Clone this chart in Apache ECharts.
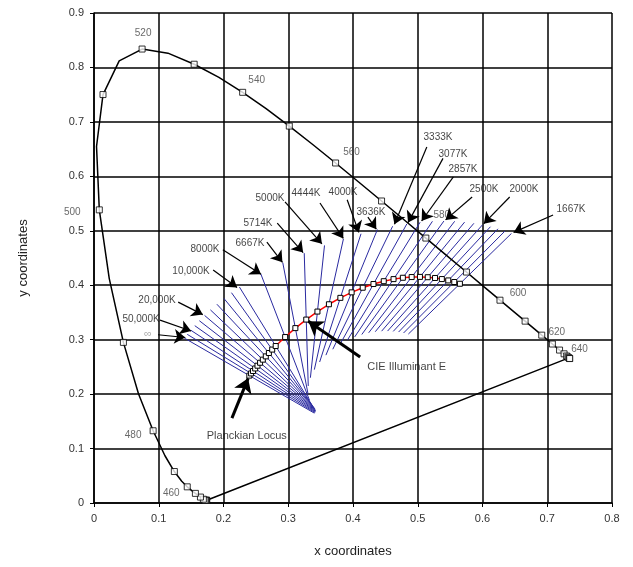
<!DOCTYPE html>
<html><head><meta charset="utf-8">
<script src="https://cdn.jsdelivr.net/npm/echarts@6/dist/echarts.min.js"></script>
<style>html,body{margin:0;padding:0;background:#fff}#c{width:633px;height:567px}</style>
</head><body><div id="c"></div>
<script>
// Spectral locus (CIE 1931 2°)
const wavelengths = [380,385,390,395,400,405,410,415,420,425,430,435,440,445,450,455,460,465,470,475,480,485,490,495,500,505,510,515,520,525,530,535,540,545,550,555,560,565,570,575,580,585,590,595,600,605,610,615,620,625,630,635,640,645,650,660,670,680,690,700];
const locusX = [0.1741,0.1740,0.1738,0.1736,0.1733,0.1730,0.1726,0.1721,0.1714,0.1703,0.1689,0.1669,0.1644,0.1611,0.1566,0.1510,0.1440,0.1355,0.1241,0.1096,0.0913,0.0687,0.0454,0.0235,0.0082,0.0039,0.0139,0.0389,0.0743,0.1142,0.1547,0.1929,0.2296,0.2658,0.3016,0.3373,0.3731,0.4087,0.4441,0.4788,0.5125,0.5448,0.5752,0.6029,0.6270,0.6482,0.6658,0.6801,0.6915,0.7006,0.7079,0.7140,0.7190,0.7230,0.7260,0.7300,0.7320,0.7334,0.7344,0.7347];
const locusY = [0.0050,0.0050,0.0049,0.0049,0.0048,0.0048,0.0048,0.0048,0.0051,0.0058,0.0069,0.0086,0.0109,0.0138,0.0177,0.0227,0.0297,0.0399,0.0578,0.0868,0.1327,0.2007,0.2950,0.4127,0.5384,0.6548,0.7502,0.8120,0.8338,0.8262,0.8059,0.7816,0.7543,0.7243,0.6923,0.6589,0.6245,0.5896,0.5547,0.5202,0.4866,0.4544,0.4242,0.3965,0.3725,0.3514,0.3340,0.3197,0.3083,0.2993,0.2920,0.2859,0.2809,0.2770,0.2740,0.2700,0.2680,0.2666,0.2656,0.2653];
const labeledWavelengths = [460,480,500,520,540,560,580,600,620,640];
const wlLabelOffsetX = [-16,-20,-27,1,14,16,16,18,15,20];
const wlLabelOffsetY = [6,4,2,-16,-12,-11,-23,-7,-3,-1];

// Planckian locus points (Robertson mireds)
const mireds = [0,10,20,30,40,50,60,70,80,90,100,125,150,175,200,225,250,275,300,325,350,375,400,425,450,475,500,525,550,575,600];
const planckX = [0.2399,0.2426,0.2456,0.2489,0.2525,0.2565,0.2607,0.2653,0.2701,0.2752,0.2806,0.2952,0.3110,0.3278,0.3451,0.3628,0.3805,0.3979,0.4150,0.4316,0.4475,0.4626,0.4770,0.4906,0.5034,0.5154,0.5267,0.5372,0.5471,0.5564,0.5651];
const planckY = [0.2340,0.2380,0.2424,0.2471,0.2522,0.2576,0.2633,0.2693,0.2755,0.2818,0.2883,0.3048,0.3212,0.3369,0.3516,0.3650,0.3768,0.3869,0.3954,0.4022,0.4074,0.4112,0.4137,0.4150,0.4153,0.4147,0.4133,0.4113,0.4088,0.4059,0.4027];

// Isotemperature line ends
const isoTopX = [0.1393,0.1440,0.1494,0.1556,0.1627,0.1708,0.1798,0.1898,0.2006,0.2123,0.2246,0.2576,0.2915,0.3247,0.3560,0.3852,0.4124,0.4377,0.4612,0.4832,0.5036,0.5227,0.5404,0.5570,0.5723,0.5867,0.6000,0.6123,0.6239,0.6347,0.6447];
const isoTopY = [0.3031,0.3098,0.3174,0.3257,0.3348,0.3445,0.3547,0.3651,0.3758,0.3863,0.3967,0.4208,0.4416,0.4589,0.4731,0.4849,0.4945,0.5023,0.5083,0.5127,0.5157,0.5174,0.5179,0.5174,0.5159,0.5137,0.5109,0.5074,0.5036,0.4995,0.4951];
const isoBotX = [0.3404,0.3412,0.3418,0.3422,0.3423,0.3421,0.3416,0.3408,0.3396,0.3382,0.3366,0.3328,0.3305,0.3309,0.3342,0.3403,0.3485,0.3582,0.3688,0.3800,0.3913,0.4026,0.4136,0.4242,0.4344,0.4442,0.4534,0.4621,0.4704,0.4781,0.4855];
const isoBotY = [0.1650,0.1662,0.1674,0.1685,0.1696,0.1708,0.1720,0.1735,0.1752,0.1773,0.1799,0.1887,0.2007,0.2149,0.2301,0.2450,0.2590,0.2716,0.2824,0.2916,0.2991,0.3050,0.3095,0.3126,0.3146,0.3156,0.3158,0.3152,0.3140,0.3123,0.3103];

// Temperature annotations
const tempLabels = ['\u221e','50,000K','20,000K','10,000K','8000K','6667K','5714K','5000K','4444K','4000K','3636K','3333K','3077K','2857K','2500K','2000K','1667K'];
const tempLabelX = [0.0834,0.0726,0.0973,0.1498,0.1714,0.2409,0.2533,0.2718,0.3274,0.3846,0.4278,0.5313,0.5544,0.5699,0.6023,0.6641,0.7367];
const tempLabelY = [0.3104,0.3380,0.3729,0.4262,0.4666,0.4776,0.5143,0.5603,0.5694,0.5713,0.5345,0.6723,0.6411,0.6135,0.5768,0.5768,0.5400];
const arrowTailX = [0.0988,0.1020,0.1300,0.1840,0.1990,0.2670,0.2830,0.2950,0.3490,0.3910,0.4230,0.5140,0.5390,0.5550,0.5840,0.6420,0.7090];
const arrowTailY = [0.3090,0.3360,0.3690,0.4280,0.4650,0.4790,0.5140,0.5530,0.5510,0.5570,0.5250,0.6540,0.6330,0.5990,0.5620,0.5620,0.5290];
const arrowTipX = [0.1410,0.1500,0.1680,0.2210,0.2580,0.2910,0.3230,0.3520,0.3850,0.4090,0.4360,0.4640,0.4850,0.5060,0.5430,0.6020,0.6480];
const arrowTipY = [0.3040,0.3160,0.3460,0.3960,0.4200,0.4420,0.4600,0.4760,0.4860,0.4970,0.5030,0.5120,0.5150,0.5180,0.5200,0.5130,0.4970];

const bigLabels = ['Planckian Locus','CIE Illuminant E'];
const bigLabelX = [0.236,0.483];
const bigLabelY = [0.123,0.250];
const bigTailX = [0.213,0.411];
const bigTailY = [0.156,0.268];
const bigTipX = [0.238,0.331];
const bigTipY = [0.229,0.334];

const FONT = 'Liberation Sans, Arial, sans-serif';

const locusData = wavelengths.map((w,i)=>[locusX[i],locusY[i]]);
locusData.push([locusX[0],locusY[0]]);
const markerData = [];
wavelengths.forEach((w,i)=>{
  if (w % 10 !== 0) return;
  const k = labeledWavelengths.indexOf(w);
  const item = {value:[locusX[i],locusY[i]]};
  if (k >= 0) {
    item.label = {show:true, formatter:String(w), position:'inside', offset:[wlLabelOffsetX[k], wlLabelOffsetY[k]]};
  }
  markerData.push(item);
});

const isoLines = mireds.map((m,i)=>({coords:[[isoBotX[i],isoBotY[i]],[isoTopX[i],isoTopY[i]]]}));
const arrows = tempLabels.map((t,i)=>({coords:[[arrowTailX[i],arrowTailY[i]],[arrowTipX[i],arrowTipY[i]]]}));
const bigArrows = bigLabels.map((t,i)=>({coords:[[bigTailX[i],bigTailY[i]],[bigTipX[i],bigTipY[i]]]}));
const tempLabelData = tempLabels.map((t,i)=>({value:[tempLabelX[i],tempLabelY[i]], name:t,
  label: i===0 ? {color:'#999', fontSize:11} : {}}));
const bigLabelData = bigLabels.map((t,i)=>({value:[bigLabelX[i],bigLabelY[i]], name:t}));

const chart = echarts.init(document.getElementById('c'));
chart.setOption({
  animation:false,
  backgroundColor:'#fff',
  grid:{left:94,right:21,top:13,bottom:64,containLabel:false},
  xAxis:{type:'value',min:0,max:0.8,interval:0.1,
    name:'x coordinates',nameLocation:'middle',nameGap:42,
    nameTextStyle:{fontFamily:FONT,fontSize:13,color:'#222'},
    axisLine:{lineStyle:{color:'#000',width:1.5}},
    axisTick:{show:true,length:4,lineStyle:{color:'#000'}},
    axisLabel:{fontFamily:FONT,fontSize:11,color:'#333',margin:10},
    splitLine:{lineStyle:{color:'#000',width:1.5}}},
  yAxis:{type:'value',min:0,max:0.9,interval:0.1,
    name:'y coordinates',nameLocation:'middle',nameGap:64,nameRotate:90,
    nameTextStyle:{fontFamily:FONT,fontSize:13,color:'#222'},
    axisLine:{lineStyle:{color:'#000',width:1.5}},
    axisTick:{show:true,length:4,lineStyle:{color:'#000'}},
    axisLabel:{fontFamily:FONT,fontSize:11,color:'#333',margin:10},
    splitLine:{lineStyle:{color:'#000',width:1.5}}},
  series:[
    {type:'lines',coordinateSystem:'cartesian2d',z:2,silent:true,
      lineStyle:{color:'#2a2aa0',width:1,opacity:1},data:isoLines},
    {type:'line',z:3,data:locusData,showSymbol:false,symbol:'none',
      lineStyle:{color:'#000',width:1.5}},
    {type:'scatter',z:4,data:markerData,symbol:'rect',symbolSize:6,
      itemStyle:{color:'#fff',borderColor:'#000',borderWidth:1},
      label:{show:false,fontFamily:FONT,fontSize:10,color:'#444'}},
    {type:'line',z:5,data:planckX.map((x,i)=>[x,planckY[i]]),
      symbol:'rect',symbolSize:5,showSymbol:true,
      lineStyle:{color:'#ff0000',width:1.5},
      itemStyle:{color:'#fff',borderColor:'#000',borderWidth:1}},
    {type:'lines',coordinateSystem:'cartesian2d',z:6,silent:true,
      symbol:['none','arrow'],symbolSize:[6,11],
      lineStyle:{color:'#000',width:1.2,opacity:1},data:arrows},
    {type:'lines',coordinateSystem:'cartesian2d',z:6,silent:true,
      symbol:['none','arrow'],symbolSize:[9,14],
      lineStyle:{color:'#000',width:3,opacity:1},data:bigArrows},
    {type:'scatter',z:7,data:tempLabelData,symbolSize:1,itemStyle:{color:'rgba(0,0,0,0)'},
      label:{show:true,position:'inside',formatter:'{b}',fontFamily:FONT,fontSize:10,color:'#111'}},
    {type:'scatter',z:7,data:bigLabelData,symbolSize:1,itemStyle:{color:'rgba(0,0,0,0)'},
      label:{show:true,position:'inside',formatter:'{b}',fontFamily:FONT,fontSize:11,color:'#111'}}
  ]
});
</script></body></html>
